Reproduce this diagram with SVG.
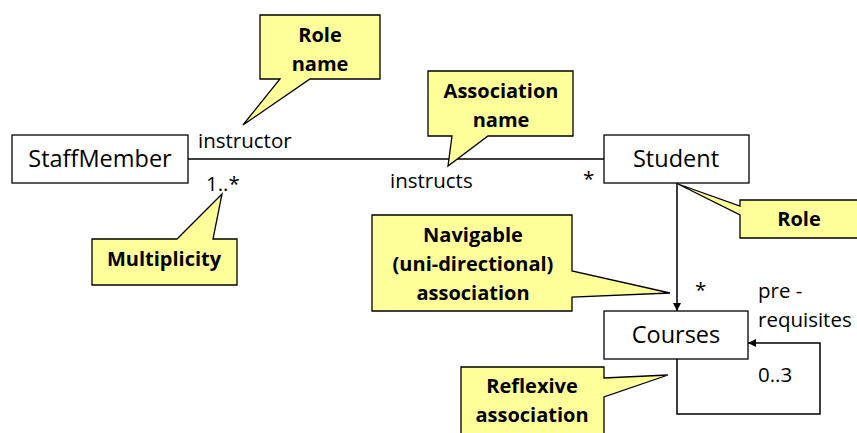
<svg xmlns="http://www.w3.org/2000/svg" width="857" height="433" viewBox="0 0 857 433">
  <defs>
    <marker id="arrow" viewBox="0 0 10 10" refX="10" refY="5" markerWidth="8" markerHeight="8" markerUnits="userSpaceOnUse" orient="auto">
      <path d="M0,0 L10,5 L0,10 z" fill="#000"/>
    </marker>
  </defs>
  <style>
    .cls { fill: #fff; stroke: #000; stroke-width: 1.3; }
    .cls-text { font-family: "Open Sans", "Noto Sans", sans-serif; font-size: 23.5px; fill: #000; text-anchor: middle; }
    .lbl { font-family: "Open Sans", "Noto Sans", sans-serif; font-size: 20.5px; fill: #000; }
    .conn { fill: none; stroke: #000; stroke-width: 1.5; }
    .note { fill: #ffff99; stroke: #000; stroke-width: 1.3; stroke-linejoin: miter; }
    .note-text { font-family: "Open Sans", "Noto Sans", sans-serif; font-size: 20px; font-weight: bold; fill: #000; text-anchor: middle; }
  </style>

  <rect width="857" height="433" fill="#fff"/>

  <!-- associations -->
  <g id="connectors">
    <line class="conn" x1="188" y1="159" x2="604" y2="159" stroke-width="2"/>
    <line class="conn" x1="677" y1="183" x2="677" y2="311" marker-end="url(#arrow)" stroke-width="1.2"/>
    <polyline class="conn" points="677,359 677,414 820,414 820,343 748,343" marker-end="url(#arrow)" stroke-width="1.2"/>
  </g>

  <!-- association labels -->
  <g id="labels">
    <text class="lbl" x="198" y="148">instructor</text>
    <text class="lbl" x="206" y="191">1..*</text>
    <text class="lbl" x="390" y="188">instructs</text>
    <text class="lbl" x="583" y="186">*</text>
    <text class="lbl" x="695" y="297">*</text>
    <text class="lbl" x="758" y="298">pre -</text>
    <text class="lbl" x="758" y="327">requisites</text>
    <text class="lbl" x="758" y="382">0..3</text>
  </g>

  <!-- classes -->
  <g id="staffmember">
    <rect class="cls" x="12" y="135" width="176" height="48"/>
    <text class="cls-text" x="100" y="167">StaffMember</text>
  </g>
  <g id="student">
    <rect class="cls" x="604" y="135" width="145" height="48"/>
    <text class="cls-text" x="676" y="167">Student</text>
  </g>
  <g id="courses">
    <rect class="cls" x="604" y="311" width="144" height="48"/>
    <text class="cls-text" x="676" y="343">Courses</text>
  </g>

  <!-- callouts -->
  <g id="note-role-name">
    <path class="note" d="M260,15 H380 V79 H310 L243,125 L280,79 H260 Z"/>
    <text class="note-text" x="320" y="42">Role</text>
    <text class="note-text" x="320" y="71">name</text>
  </g>
  <g id="note-association-name">
    <path class="note" d="M428,71 H573 V136 H488 L448,166 L452,136 H428 Z"/>
    <text class="note-text" x="501" y="98">Association</text>
    <text class="note-text" x="501" y="127">name</text>
  </g>
  <g id="note-multiplicity">
    <path class="note" d="M92,239 H177 L222,194 L213,239 H237 V285 H92 Z"/>
    <text class="note-text" x="164" y="266">Multiplicity</text>
  </g>
  <g id="note-role">
    <path class="note" d="M740,200 H858 V238 H740 V215 L678,184 L740,206 Z"/>
    <text class="note-text" x="799" y="226">Role</text>
  </g>
  <g id="note-navigable">
    <path class="note" d="M372,215 H572 V271 L670,293 L572,297 V311 H372 Z"/>
    <text class="note-text" x="473" y="242">Navigable</text>
    <text class="note-text" x="473" y="271">(uni-directional)</text>
    <text class="note-text" x="473" y="300">association</text>
  </g>
  <g id="note-reflexive">
    <path class="note" d="M461,367 H604 V378 L668,375 L604,397 V440 H461 Z"/>
    <text class="note-text" x="532" y="393">Reflexive</text>
    <text class="note-text" x="532" y="422">association</text>
  </g>
</svg>
